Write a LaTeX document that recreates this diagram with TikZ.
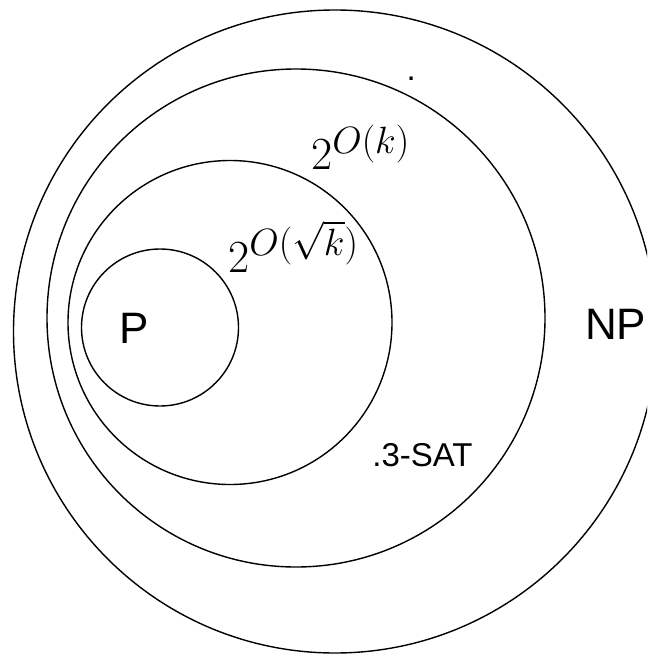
\RequirePackage{fix-cm}
\documentclass[tikz,border=0pt]{standalone}
\usepackage{fontspec}
\newfontfamily\labelsans{Liberation Sans}
\DeclareMathSizes{46}{46}{38}{30}
\tikzset{
  ring/.style={draw, circle, line width=1.4pt, inner sep=0pt},
  sanslbl/.style={inner sep=0pt, anchor=base west, font=\labelsans\fontsize{33}{40}\selectfont},
  biglbl/.style={inner sep=0pt, anchor=base west, font=\labelsans\fontsize{44}{52}\selectfont},
  mathlbl/.style={inner sep=0pt, anchor=base west, font=\fontsize{46}{55}\selectfont}
}
\begin{document}
\begin{tikzpicture}[x=1pt,y=-1pt]
\useasboundingbox (0,0) rectangle (647,655);
\clip (0,0) rectangle (647,655);
\fill[white] (0,0) rectangle (647,655);
\node[ring, minimum size=643pt] (np) at (335,331.5) {};
\node[ring, minimum size=498pt] (exp) at (296,318) {};
\node[ring, minimum size=324pt] (subexp) at (230,322.5) {};
\node[ring, minimum size=157pt] (p) at (160,327.5) {};
\node[sanslbl] (dot) at (406.5,80.5) {.};
\node[sanslbl] (sat) at (372.2,466) {.3-SAT};
\node[biglbl] (nplbl) at (585,339) {NP};
\node[biglbl] (plbl) at (119.5,343) {P};
\node[mathlbl] (ok) at (311,170) {$2^{O(k)}$};
\node[mathlbl] (osk) at (228,272) {$2^{O(\sqrt{k})}$};
\end{tikzpicture}
\end{document}
